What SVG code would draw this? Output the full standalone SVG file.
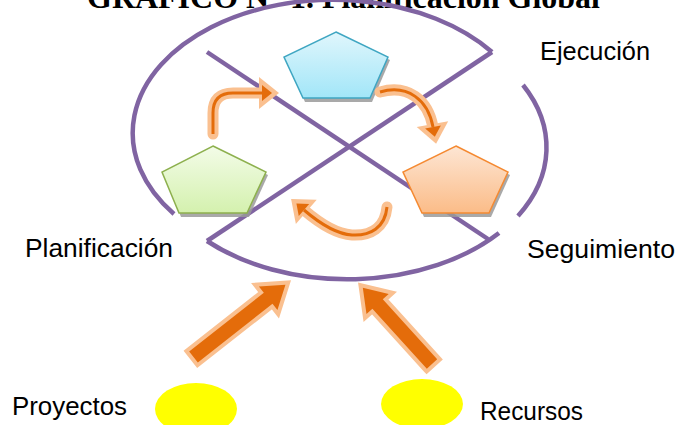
<svg xmlns="http://www.w3.org/2000/svg" width="678" height="425" viewBox="0 0 678 425">
  <style>
    .ring { fill: none; stroke: #8064A2; stroke-width: 4.5; }
    .lbl { font-family: "Liberation Sans", Arial, sans-serif; font-size: 26px; fill: #000; }
    .title { font-family: "Liberation Serif", "Times New Roman", serif; font-size: 32px; font-weight: bold; fill: #000; }
    .shadow { fill: #9a9a9a; opacity: 0.85; }
    .out { fill: none; stroke: #FAC090; stroke-width: 11; stroke-linecap: round; marker-end: url(#hOut); }
    .in { fill: none; stroke: #E46C0A; stroke-width: 3; marker-end: url(#hIn); }
    .big { fill: #E46C0A; stroke: #FAC090; stroke-width: 8; paint-order: stroke; stroke-linejoin: miter; }
  </style>
  <defs>
    <linearGradient id="gBlue" x1="0" y1="0" x2="0" y2="1">
      <stop offset="0" stop-color="#E0F6FC"/>
      <stop offset="1" stop-color="#A2E6F8"/>
    </linearGradient>
    <linearGradient id="gGreen" x1="0" y1="0" x2="0" y2="1">
      <stop offset="0" stop-color="#F3FCE8"/>
      <stop offset="1" stop-color="#D4F1AE"/>
    </linearGradient>
    <linearGradient id="gOrange" x1="0" y1="0" x2="0" y2="1">
      <stop offset="0" stop-color="#FDE6D4"/>
      <stop offset="1" stop-color="#FBBC88"/>
    </linearGradient>
    <marker id="hOut" markerUnits="userSpaceOnUse" markerWidth="1" markerHeight="1" refX="0" refY="0" orient="auto" overflow="visible">
      <polygon points="-3,-16 17,0 -3,16" fill="#FAC090"/>
    </marker>
    <marker id="hIn" markerUnits="userSpaceOnUse" markerWidth="1" markerHeight="1" refX="0" refY="0" orient="auto" overflow="visible">
      <polygon points="0,-8 10,0 0,8" fill="#E46C0A"/>
    </marker>
  </defs>

  <text class="title" x="87" y="8" textLength="513" lengthAdjust="spacingAndGlyphs">GRAFICO N° 1. Planificación Global</text>

  <g id="cycle-ring">
    <path class="ring" d="M174,214 A200,133 0 0 1 492,52"/>
    <path class="ring" d="M523,85 A200,133 0 0 1 518,216"/>
    <path class="ring" d="M207,241 A200,133 0 0 0 499,233"/>
    <line class="ring" x1="207" y1="52" x2="488" y2="239"/>
    <line class="ring" x1="492" y1="52" x2="207" y2="241"/>
  </g>

  <g id="ejecucion-node">
    <polygon class="shadow" points="338,35 390,60 372,102 305,102 286,60"/>
    <polygon points="336,32 388,57 370,98 303,98 284,57" fill="url(#gBlue)" stroke="#3FA6C2" stroke-width="1.5"/>
  </g>
  <g id="planificacion-node">
    <polygon class="shadow" points="215,149 268,175 249,217 181,217 164,175"/>
    <polygon points="213,146 266,172 247,213 179,213 162,172" fill="url(#gGreen)" stroke="#8DB04E" stroke-width="1.5"/>
  </g>
  <g id="seguimiento-node">
    <polygon class="shadow" points="458,149 510,175 491,217 424,217 405,175"/>
    <polygon points="456,146 508,172 489,213 422,213 403,172" fill="url(#gOrange)" stroke="#F58A32" stroke-width="1.5"/>
  </g>

  <g id="connectors">
    <path class="out" d="M213,134 L213,113 Q213,93 233,93 L262,93"/>
    <path class="in" d="M213,134 L213,113 Q213,93 233,93 L262,93"/>
    <path class="out" d="M380,92 C408,84 428,100 433,127"/>
    <path class="in" d="M380,92 C408,84 428,100 433,127"/>
    <path class="out" d="M387,207 C385,228 370,236 352,235 C336,234 318,222 304,210"/>
    <path class="in" d="M387,207 C385,228 370,236 352,235 C336,234 318,222 304,210"/>
    <polygon class="big" transform="translate(193.5,357) rotate(-38.2)" points="0,-7 95,-7 95,-15 117,0 95,15 95,7 0,7"/>
    <polygon class="big" transform="translate(432,364) rotate(-132.2)" points="0,-7 81,-7 81,-15 103,0 81,15 81,7 0,7"/>
  </g>

  <g id="proyectos-node">
    <ellipse cx="196" cy="409" rx="41" ry="26" fill="#FFFF00"/>
    <text class="lbl" x="12" y="415" textLength="115" lengthAdjust="spacingAndGlyphs">Proyectos</text>
  </g>
  <g id="recursos-node">
    <ellipse cx="422" cy="404" rx="41" ry="25" fill="#FFFF00"/>
    <text class="lbl" x="480" y="420" textLength="103" lengthAdjust="spacingAndGlyphs">Recursos</text>
  </g>

  <text class="lbl" x="540" y="60" textLength="110" lengthAdjust="spacingAndGlyphs">Ejecución</text>
  <text class="lbl" x="25" y="257" textLength="148" lengthAdjust="spacingAndGlyphs">Planificación</text>
  <text class="lbl" x="527" y="258" textLength="148" lengthAdjust="spacingAndGlyphs">Seguimiento</text>
</svg>
